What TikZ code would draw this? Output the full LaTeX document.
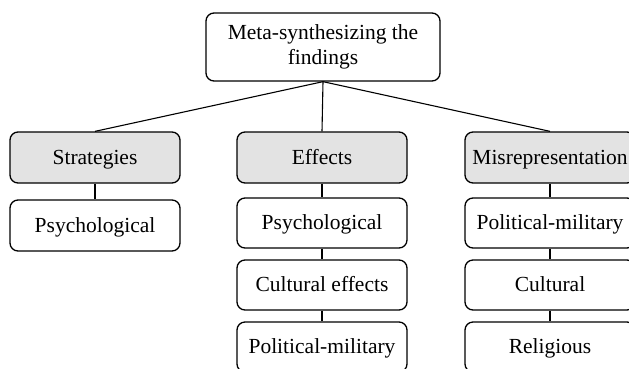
\documentclass[tikz,border=0pt]{standalone}
\usepackage{fontspec}
\setmainfont{Liberation Serif}
\begin{document}
\begin{tikzpicture}[x=1pt,y=-1pt,
  base/.style={draw=black,line width=1.3pt,rounded corners=8pt,inner sep=0pt,align=center,font=\fontsize{21.5}{24.5}\selectfont,fill=white},
  box/.style={base,minimum width=170pt,minimum height=51pt,text height=16pt,text depth=3pt},
  head/.style={box,fill=gray!22},
  link/.style={draw=black,line width=1.1pt}]
\useasboundingbox (0,0) rectangle (629,368);
\clip (0,0) rectangle (629,368);
\node[base,minimum width=234pt,minimum height=68pt] (top) at (323,47) {Meta-synthesizing the\\findings};
\node[head] (strat) at (95,157.5) {Strategies};
\node[box] (s1) at (95,225.5) {Psychological};
\node[head] (eff) at (322,157.5) {Effects};
\node[box,minimum height=50pt] (e1) at (322,223) {Psychological};
\node[box,minimum height=50pt] (e2) at (322,285) {Cultural effects};
\node[box,minimum height=50pt] (e3) at (322,347) {Political-military};
\node[head] (mis) at (550,157.5) {Misrepresentation};
\node[box,minimum height=50pt] (m1) at (550,223) {Political-military};
\node[box,minimum height=50pt] (m2) at (550,285) {Cultural};
\node[box,minimum height=50pt] (m3) at (550,347) {Religious};
\draw[link] (top.south) -- (strat.north);
\draw[link] (top.south) -- (eff.north);
\draw[link] (top.south) -- (mis.north);
\draw[link] (strat) -- (s1);
\draw[link] (eff) -- (e1);
\draw[link] (e1) -- (e2);
\draw[link] (e2) -- (e3);
\draw[link] (mis) -- (m1);
\draw[link] (m1) -- (m2);
\draw[link] (m2) -- (m3);
\end{tikzpicture}
\end{document}
